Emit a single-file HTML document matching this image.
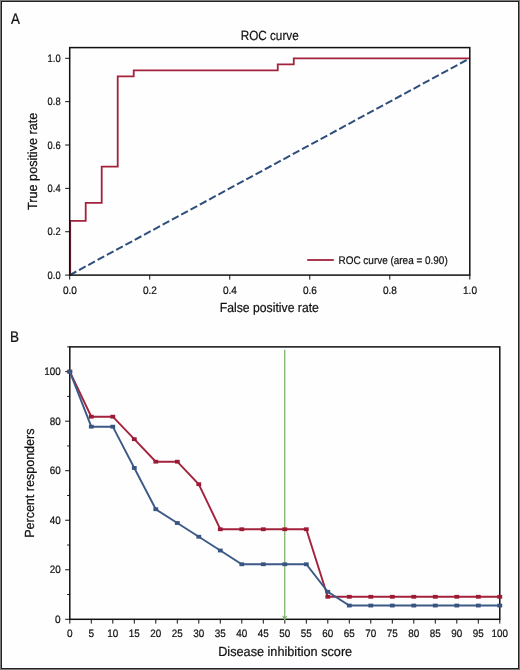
<!DOCTYPE html><html><head><meta charset="utf-8"><style>html,body{margin:0;padding:0;background:#fff;}svg{display:block;will-change:transform;text-rendering:geometricPrecision;}text{stroke:#111;stroke-width:0.22px;font-family:"Liberation Sans",sans-serif;}</style></head><body>
<svg width="520" height="670" viewBox="0 0 520 670">
<rect x="0" y="0" width="520" height="670" fill="#fefefe"/>
<polyline points="70.20,275.10 70.20,220.90 85.70,220.90 85.70,202.83 101.71,202.83 101.71,166.70 117.71,166.70 117.71,76.37 133.72,76.37 133.72,70.34 277.75,70.34 277.75,64.32 293.76,64.32 293.76,58.30 469.80,58.30" fill="none" stroke="#a3223c" stroke-width="1.8" stroke-linejoin="miter"/>
<line x1="69.70" y1="275.10" x2="469.80" y2="58.30" stroke="#2f4e7c" stroke-width="2" stroke-dasharray="7.55 3.02"/>
<line x1="307.2" y1="260" x2="333.8" y2="260" stroke="#a3223c" stroke-width="1.8"/>
<text x="338.5" y="263.8" font-size="11" fill="#111" textLength="109.2" lengthAdjust="spacingAndGlyphs">ROC curve (area = 0.90)</text>
<line x1="65.2" y1="275.10" x2="69.70" y2="275.10" stroke="#111" stroke-width="1"/>
<text x="60.6" y="278.80" font-size="10.8" fill="#111" text-anchor="end" textLength="13.0" lengthAdjust="spacingAndGlyphs">0.0</text>
<line x1="69.70" y1="275.10" x2="69.70" y2="279.6" stroke="#111" stroke-width="1"/>
<text x="69.90" y="293.8" font-size="10.8" fill="#111" text-anchor="middle" textLength="14.0" lengthAdjust="spacingAndGlyphs">0.0</text>
<line x1="65.2" y1="231.74" x2="69.70" y2="231.74" stroke="#111" stroke-width="1"/>
<text x="60.6" y="235.44" font-size="10.8" fill="#111" text-anchor="end" textLength="13.0" lengthAdjust="spacingAndGlyphs">0.2</text>
<line x1="149.72" y1="275.10" x2="149.72" y2="279.6" stroke="#111" stroke-width="1"/>
<text x="149.92" y="293.8" font-size="10.8" fill="#111" text-anchor="middle" textLength="14.0" lengthAdjust="spacingAndGlyphs">0.2</text>
<line x1="65.2" y1="188.38" x2="69.70" y2="188.38" stroke="#111" stroke-width="1"/>
<text x="60.6" y="192.08" font-size="10.8" fill="#111" text-anchor="end" textLength="13.0" lengthAdjust="spacingAndGlyphs">0.4</text>
<line x1="229.74" y1="275.10" x2="229.74" y2="279.6" stroke="#111" stroke-width="1"/>
<text x="229.94" y="293.8" font-size="10.8" fill="#111" text-anchor="middle" textLength="14.0" lengthAdjust="spacingAndGlyphs">0.4</text>
<line x1="65.2" y1="145.02" x2="69.70" y2="145.02" stroke="#111" stroke-width="1"/>
<text x="60.6" y="148.72" font-size="10.8" fill="#111" text-anchor="end" textLength="13.0" lengthAdjust="spacingAndGlyphs">0.6</text>
<line x1="309.76" y1="275.10" x2="309.76" y2="279.6" stroke="#111" stroke-width="1"/>
<text x="309.96" y="293.8" font-size="10.8" fill="#111" text-anchor="middle" textLength="14.0" lengthAdjust="spacingAndGlyphs">0.6</text>
<line x1="65.2" y1="101.66" x2="69.70" y2="101.66" stroke="#111" stroke-width="1"/>
<text x="60.6" y="105.36" font-size="10.8" fill="#111" text-anchor="end" textLength="13.0" lengthAdjust="spacingAndGlyphs">0.8</text>
<line x1="389.78" y1="275.10" x2="389.78" y2="279.6" stroke="#111" stroke-width="1"/>
<text x="389.98" y="293.8" font-size="10.8" fill="#111" text-anchor="middle" textLength="14.0" lengthAdjust="spacingAndGlyphs">0.8</text>
<line x1="65.2" y1="58.30" x2="69.70" y2="58.30" stroke="#111" stroke-width="1"/>
<text x="60.6" y="62.00" font-size="10.8" fill="#111" text-anchor="end" textLength="13.0" lengthAdjust="spacingAndGlyphs">1.0</text>
<line x1="469.80" y1="275.10" x2="469.80" y2="279.6" stroke="#111" stroke-width="1"/>
<text x="470.00" y="293.8" font-size="10.8" fill="#111" text-anchor="middle" textLength="14.0" lengthAdjust="spacingAndGlyphs">1.0</text>
<rect x="69.70" y="47.60" width="400.10" height="227.50" fill="none" stroke="#111" stroke-width="1.5"/>
<text x="269.7" y="39.8" font-size="13.3" fill="#111" text-anchor="middle" textLength="58" lengthAdjust="spacingAndGlyphs">ROC curve</text>
<text x="269.3" y="311.8" font-size="13.2" fill="#111" text-anchor="middle" textLength="99.2" lengthAdjust="spacingAndGlyphs">False positive rate</text>
<text transform="translate(37.4,161.3) rotate(-90)" x="0" y="0" font-size="13.2" fill="#111" text-anchor="middle" textLength="97.3" lengthAdjust="spacingAndGlyphs">True positive rate</text>
<text transform="translate(10.9,24.0) scale(0.87,1)" font-size="15.4" fill="#111">A</text>
<line x1="65.2" y1="619.30" x2="69.80" y2="619.30" stroke="#111" stroke-width="1"/>
<text x="60.7" y="622.70" font-size="10.8" fill="#111" text-anchor="end" textLength="5.6" lengthAdjust="spacingAndGlyphs">0</text>
<line x1="67.2" y1="594.53" x2="69.80" y2="594.53" stroke="#111" stroke-width="1"/>
<line x1="65.2" y1="569.77" x2="69.80" y2="569.77" stroke="#111" stroke-width="1"/>
<text x="60.7" y="573.17" font-size="10.8" fill="#111" text-anchor="end" textLength="11.0" lengthAdjust="spacingAndGlyphs">20</text>
<line x1="67.2" y1="545.00" x2="69.80" y2="545.00" stroke="#111" stroke-width="1"/>
<line x1="65.2" y1="520.24" x2="69.80" y2="520.24" stroke="#111" stroke-width="1"/>
<text x="60.7" y="523.64" font-size="10.8" fill="#111" text-anchor="end" textLength="11.0" lengthAdjust="spacingAndGlyphs">40</text>
<line x1="67.2" y1="495.47" x2="69.80" y2="495.47" stroke="#111" stroke-width="1"/>
<line x1="65.2" y1="470.71" x2="69.80" y2="470.71" stroke="#111" stroke-width="1"/>
<text x="60.7" y="474.11" font-size="10.8" fill="#111" text-anchor="end" textLength="11.0" lengthAdjust="spacingAndGlyphs">60</text>
<line x1="67.2" y1="445.94" x2="69.80" y2="445.94" stroke="#111" stroke-width="1"/>
<line x1="65.2" y1="421.18" x2="69.80" y2="421.18" stroke="#111" stroke-width="1"/>
<text x="60.7" y="424.58" font-size="10.8" fill="#111" text-anchor="end" textLength="11.0" lengthAdjust="spacingAndGlyphs">80</text>
<line x1="67.2" y1="396.41" x2="69.80" y2="396.41" stroke="#111" stroke-width="1"/>
<line x1="65.2" y1="371.65" x2="69.80" y2="371.65" stroke="#111" stroke-width="1"/>
<text x="60.7" y="375.05" font-size="10.8" fill="#111" text-anchor="end" textLength="16.4" lengthAdjust="spacingAndGlyphs">100</text>
<line x1="67.2" y1="346.88" x2="69.80" y2="346.88" stroke="#111" stroke-width="1"/>
<line x1="69.80" y1="619.30" x2="69.80" y2="623.6" stroke="#111" stroke-width="1"/>
<text x="69.80" y="637.3" font-size="10.8" fill="#111" text-anchor="middle" textLength="5.6" lengthAdjust="spacingAndGlyphs">0</text>
<line x1="91.30" y1="619.30" x2="91.30" y2="623.6" stroke="#111" stroke-width="1"/>
<text x="91.30" y="637.3" font-size="10.8" fill="#111" text-anchor="middle" textLength="5.6" lengthAdjust="spacingAndGlyphs">5</text>
<line x1="112.80" y1="619.30" x2="112.80" y2="623.6" stroke="#111" stroke-width="1"/>
<text x="112.80" y="637.3" font-size="10.8" fill="#111" text-anchor="middle" textLength="11.0" lengthAdjust="spacingAndGlyphs">10</text>
<line x1="134.30" y1="619.30" x2="134.30" y2="623.6" stroke="#111" stroke-width="1"/>
<text x="134.30" y="637.3" font-size="10.8" fill="#111" text-anchor="middle" textLength="11.0" lengthAdjust="spacingAndGlyphs">15</text>
<line x1="155.80" y1="619.30" x2="155.80" y2="623.6" stroke="#111" stroke-width="1"/>
<text x="155.80" y="637.3" font-size="10.8" fill="#111" text-anchor="middle" textLength="11.0" lengthAdjust="spacingAndGlyphs">20</text>
<line x1="177.30" y1="619.30" x2="177.30" y2="623.6" stroke="#111" stroke-width="1"/>
<text x="177.30" y="637.3" font-size="10.8" fill="#111" text-anchor="middle" textLength="11.0" lengthAdjust="spacingAndGlyphs">25</text>
<line x1="198.80" y1="619.30" x2="198.80" y2="623.6" stroke="#111" stroke-width="1"/>
<text x="198.80" y="637.3" font-size="10.8" fill="#111" text-anchor="middle" textLength="11.0" lengthAdjust="spacingAndGlyphs">30</text>
<line x1="220.30" y1="619.30" x2="220.30" y2="623.6" stroke="#111" stroke-width="1"/>
<text x="220.30" y="637.3" font-size="10.8" fill="#111" text-anchor="middle" textLength="11.0" lengthAdjust="spacingAndGlyphs">35</text>
<line x1="241.80" y1="619.30" x2="241.80" y2="623.6" stroke="#111" stroke-width="1"/>
<text x="241.80" y="637.3" font-size="10.8" fill="#111" text-anchor="middle" textLength="11.0" lengthAdjust="spacingAndGlyphs">40</text>
<line x1="263.30" y1="619.30" x2="263.30" y2="623.6" stroke="#111" stroke-width="1"/>
<text x="263.30" y="637.3" font-size="10.8" fill="#111" text-anchor="middle" textLength="11.0" lengthAdjust="spacingAndGlyphs">45</text>
<line x1="284.80" y1="619.30" x2="284.80" y2="623.6" stroke="#111" stroke-width="1"/>
<text x="284.80" y="637.3" font-size="10.8" fill="#111" text-anchor="middle" textLength="11.0" lengthAdjust="spacingAndGlyphs">50</text>
<line x1="306.30" y1="619.30" x2="306.30" y2="623.6" stroke="#111" stroke-width="1"/>
<text x="306.30" y="637.3" font-size="10.8" fill="#111" text-anchor="middle" textLength="11.0" lengthAdjust="spacingAndGlyphs">55</text>
<line x1="327.80" y1="619.30" x2="327.80" y2="623.6" stroke="#111" stroke-width="1"/>
<text x="327.80" y="637.3" font-size="10.8" fill="#111" text-anchor="middle" textLength="11.0" lengthAdjust="spacingAndGlyphs">60</text>
<line x1="349.30" y1="619.30" x2="349.30" y2="623.6" stroke="#111" stroke-width="1"/>
<text x="349.30" y="637.3" font-size="10.8" fill="#111" text-anchor="middle" textLength="11.0" lengthAdjust="spacingAndGlyphs">65</text>
<line x1="370.80" y1="619.30" x2="370.80" y2="623.6" stroke="#111" stroke-width="1"/>
<text x="370.80" y="637.3" font-size="10.8" fill="#111" text-anchor="middle" textLength="11.0" lengthAdjust="spacingAndGlyphs">70</text>
<line x1="392.30" y1="619.30" x2="392.30" y2="623.6" stroke="#111" stroke-width="1"/>
<text x="392.30" y="637.3" font-size="10.8" fill="#111" text-anchor="middle" textLength="11.0" lengthAdjust="spacingAndGlyphs">75</text>
<line x1="413.80" y1="619.30" x2="413.80" y2="623.6" stroke="#111" stroke-width="1"/>
<text x="413.80" y="637.3" font-size="10.8" fill="#111" text-anchor="middle" textLength="11.0" lengthAdjust="spacingAndGlyphs">80</text>
<line x1="435.30" y1="619.30" x2="435.30" y2="623.6" stroke="#111" stroke-width="1"/>
<text x="435.30" y="637.3" font-size="10.8" fill="#111" text-anchor="middle" textLength="11.0" lengthAdjust="spacingAndGlyphs">85</text>
<line x1="456.80" y1="619.30" x2="456.80" y2="623.6" stroke="#111" stroke-width="1"/>
<text x="456.80" y="637.3" font-size="10.8" fill="#111" text-anchor="middle" textLength="11.0" lengthAdjust="spacingAndGlyphs">90</text>
<line x1="478.30" y1="619.30" x2="478.30" y2="623.6" stroke="#111" stroke-width="1"/>
<text x="478.30" y="637.3" font-size="10.8" fill="#111" text-anchor="middle" textLength="11.0" lengthAdjust="spacingAndGlyphs">95</text>
<line x1="499.80" y1="619.30" x2="499.80" y2="623.6" stroke="#111" stroke-width="1"/>
<text x="499.80" y="637.3" font-size="10.8" fill="#111" text-anchor="middle" textLength="16.4" lengthAdjust="spacingAndGlyphs">100</text>
<rect x="69.80" y="346.88" width="430.00" height="272.42" fill="none" stroke="#111" stroke-width="1.5"/>
<line x1="284.70" y1="349.8" x2="284.70" y2="617" stroke="#80b66c" stroke-width="1.3"/>
<path d="M282.10,615.6 L284.70,616.8 L287.30,615.6 L284.70,621.3 Z" fill="#80b66c"/>
<polyline points="69.80,371.65 91.30,416.68 112.80,416.68 134.30,439.19 155.80,461.70 177.30,461.70 198.80,484.22 220.30,529.25 241.80,529.25 263.30,529.25 284.80,529.25 306.30,529.25 327.80,596.79 349.30,596.79 370.80,596.79 392.30,596.79 413.80,596.79 435.30,596.79 456.80,596.79 478.30,596.79 499.80,596.79" fill="none" stroke="#a3223c" stroke-width="1.9" stroke-linejoin="miter"/>
<rect x="67.40" y="369.75" width="4.8" height="3.8" fill="#9b1b34"/>
<rect x="88.90" y="414.78" width="4.8" height="3.8" fill="#9b1b34"/>
<rect x="110.40" y="414.78" width="4.8" height="3.8" fill="#9b1b34"/>
<rect x="131.90" y="437.29" width="4.8" height="3.8" fill="#9b1b34"/>
<rect x="153.40" y="459.80" width="4.8" height="3.8" fill="#9b1b34"/>
<rect x="174.90" y="459.80" width="4.8" height="3.8" fill="#9b1b34"/>
<rect x="196.40" y="482.32" width="4.8" height="3.8" fill="#9b1b34"/>
<rect x="217.90" y="527.35" width="4.8" height="3.8" fill="#9b1b34"/>
<rect x="239.40" y="527.35" width="4.8" height="3.8" fill="#9b1b34"/>
<rect x="260.90" y="527.35" width="4.8" height="3.8" fill="#9b1b34"/>
<rect x="282.40" y="527.35" width="4.8" height="3.8" fill="#9b1b34"/>
<rect x="303.90" y="527.35" width="4.8" height="3.8" fill="#9b1b34"/>
<rect x="325.40" y="594.89" width="4.8" height="3.8" fill="#9b1b34"/>
<rect x="346.90" y="594.89" width="4.8" height="3.8" fill="#9b1b34"/>
<rect x="368.40" y="594.89" width="4.8" height="3.8" fill="#9b1b34"/>
<rect x="389.90" y="594.89" width="4.8" height="3.8" fill="#9b1b34"/>
<rect x="411.40" y="594.89" width="4.8" height="3.8" fill="#9b1b34"/>
<rect x="432.90" y="594.89" width="4.8" height="3.8" fill="#9b1b34"/>
<rect x="454.40" y="594.89" width="4.8" height="3.8" fill="#9b1b34"/>
<rect x="475.90" y="594.89" width="4.8" height="3.8" fill="#9b1b34"/>
<rect x="497.40" y="594.89" width="4.8" height="3.8" fill="#9b1b34"/>
<polyline points="69.80,371.65 91.30,426.68 112.80,426.68 134.30,467.96 155.80,509.23 177.30,522.99 198.80,536.75 220.30,550.51 241.80,564.27 263.30,564.27 284.80,564.27 306.30,564.27 327.80,591.78 349.30,605.54 370.80,605.54 392.30,605.54 413.80,605.54 435.30,605.54 456.80,605.54 478.30,605.54 499.80,605.54" fill="none" stroke="#3d5a87" stroke-width="1.9" stroke-linejoin="miter"/>
<rect x="67.40" y="369.75" width="4.8" height="3.8" fill="#385480"/>
<rect x="88.90" y="424.78" width="4.8" height="3.8" fill="#385480"/>
<rect x="110.40" y="424.78" width="4.8" height="3.8" fill="#385480"/>
<rect x="131.90" y="466.06" width="4.8" height="3.8" fill="#385480"/>
<rect x="153.40" y="507.33" width="4.8" height="3.8" fill="#385480"/>
<rect x="174.90" y="521.09" width="4.8" height="3.8" fill="#385480"/>
<rect x="196.40" y="534.85" width="4.8" height="3.8" fill="#385480"/>
<rect x="217.90" y="548.61" width="4.8" height="3.8" fill="#385480"/>
<rect x="239.40" y="562.37" width="4.8" height="3.8" fill="#385480"/>
<rect x="260.90" y="562.37" width="4.8" height="3.8" fill="#385480"/>
<rect x="282.40" y="562.37" width="4.8" height="3.8" fill="#385480"/>
<rect x="303.90" y="562.37" width="4.8" height="3.8" fill="#385480"/>
<rect x="325.40" y="589.88" width="4.8" height="3.8" fill="#385480"/>
<rect x="346.90" y="603.64" width="4.8" height="3.8" fill="#385480"/>
<rect x="368.40" y="603.64" width="4.8" height="3.8" fill="#385480"/>
<rect x="389.90" y="603.64" width="4.8" height="3.8" fill="#385480"/>
<rect x="411.40" y="603.64" width="4.8" height="3.8" fill="#385480"/>
<rect x="432.90" y="603.64" width="4.8" height="3.8" fill="#385480"/>
<rect x="454.40" y="603.64" width="4.8" height="3.8" fill="#385480"/>
<rect x="475.90" y="603.64" width="4.8" height="3.8" fill="#385480"/>
<rect x="497.40" y="603.64" width="4.8" height="3.8" fill="#385480"/>
<text x="285.2" y="656.3" font-size="13.2" fill="#111" text-anchor="middle" textLength="134" lengthAdjust="spacingAndGlyphs">Disease inhibition score</text>
<text transform="translate(33.6,483.2) rotate(-90)" x="0" y="0" font-size="13.2" fill="#111" text-anchor="middle" textLength="109.3" lengthAdjust="spacingAndGlyphs">Percent responders</text>
<text transform="translate(10.0,341.9) scale(0.88,1)" font-size="15.4" fill="#111">B</text>
<rect x="0.5" y="0.5" width="519" height="669" fill="none" stroke="#7a7a7a" stroke-width="1"/>
<rect x="1.5" y="1.5" width="517" height="667" fill="none" stroke="#222" stroke-width="1"/>
</svg></body></html>
